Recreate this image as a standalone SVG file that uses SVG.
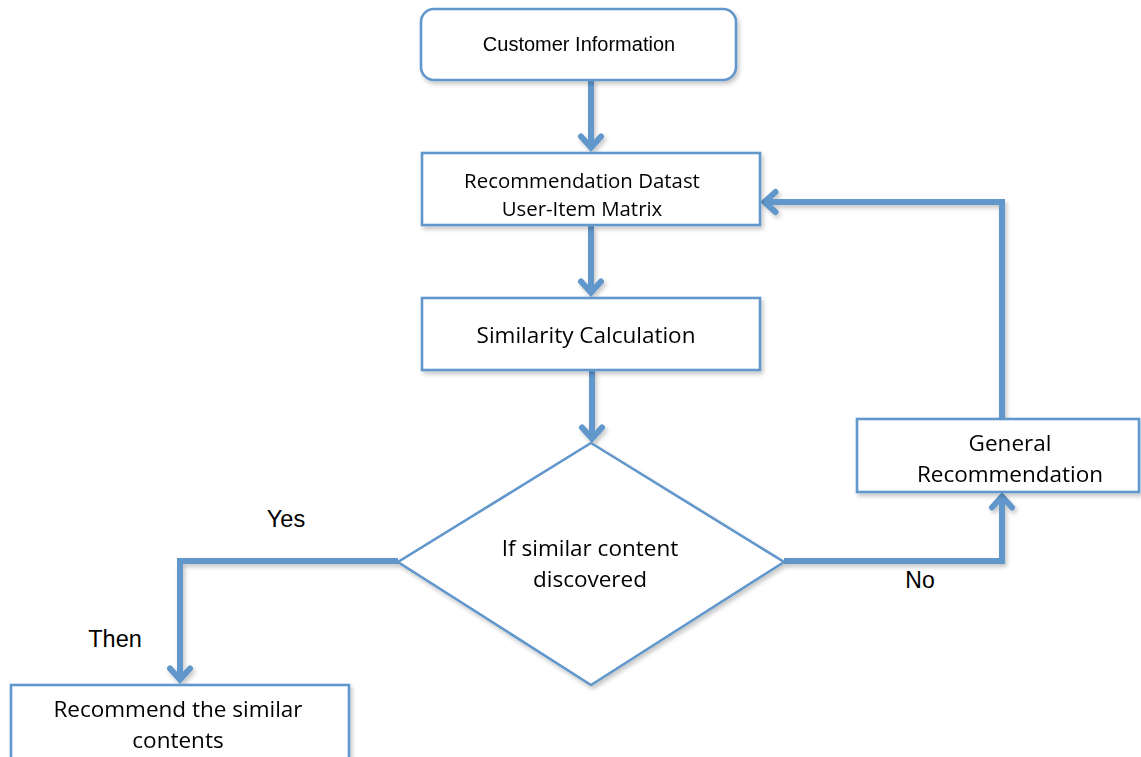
<svg xmlns="http://www.w3.org/2000/svg" width="1141" height="757" viewBox="0 0 1141 757">
<style>
.box{fill:#fff;stroke:#6297CC;stroke-width:2.6}
.con{fill:none;stroke:#6297CC;stroke-width:6;stroke-linejoin:miter}
.ar{font-family:"Liberation Sans",Arial,sans-serif;fill:#000;text-anchor:middle}
.cb{font-family:"Open Sans","Noto Sans",sans-serif;fill:#000;text-anchor:middle;font-size:22.5px}
</style>
<defs>
<filter id="sh" x="-10%" y="-10%" width="130%" height="130%">
<feDropShadow dx="2" dy="3" stdDeviation="2" flood-color="#000" flood-opacity="0.22"/>
</filter>
<marker id="ah" markerUnits="userSpaceOnUse" markerWidth="40" markerHeight="40" viewBox="-20 -20 40 40" refX="0" refY="0" orient="auto" overflow="visible">
<path d="M-8,-10 L3,0 L-8,10" fill="none" stroke="#6297CC" stroke-width="6" stroke-linecap="round" stroke-linejoin="miter"/>
</marker>
</defs>
<rect width="1141" height="757" fill="#fff"/>
<g id="connectors" filter="url(#sh)">
<path class="con" d="M591,80 V144.5" marker-end="url(#ah)"/>
<path class="con" d="M591,226 V289.5" marker-end="url(#ah)"/>
<path class="con" d="M592,370 V435.5" marker-end="url(#ah)"/>
<path class="con" d="M398,561 H180 V676.5" marker-end="url(#ah)"/>
<path class="con" d="M784,561 H1002 V499.5" marker-end="url(#ah)"/>
<path class="con" d="M1002,419 V202 H767.5" marker-end="url(#ah)"/>
</g>
<g id="n-customer" filter="url(#sh)">
<rect class="box" x="421" y="9" width="315" height="71" rx="13"/>
<text class="ar" x="579" y="51" font-size="20">Customer Information</text>
</g>
<g id="n-dataset" filter="url(#sh)">
<rect class="box" x="422" y="153" width="338" height="72"/>
<text class="cb" x="582" y="188" style="font-size:20.4px">Recommendation Datast</text>
<text class="cb" x="582" y="216" style="font-size:20.4px">User-Item Matrix</text>
</g>
<g id="n-similarity" filter="url(#sh)">
<rect class="box" x="422" y="298" width="338" height="72"/>
<text class="cb" x="586" y="343">Similarity Calculation</text>
</g>
<g id="n-decision" filter="url(#sh)">
<polygon class="box" points="591,443 784,562 591,685 398,562"/>
<text class="cb" x="590" y="556">If similar content</text>
<text class="cb" x="590" y="587">discovered</text>
</g>
<g id="n-general" filter="url(#sh)">
<rect class="box" x="857" y="419" width="282" height="73"/>
<text class="cb" x="1010" y="451">General</text>
<text class="cb" x="1010" y="482">Recommendation</text>
</g>
<g id="n-recommend" filter="url(#sh)">
<rect class="box" x="11" y="685" width="338" height="85"/>
<text class="cb" x="178" y="717">Recommend the similar</text>
<text class="cb" x="178" y="748">contents</text>
</g>
<g id="labels">
<text class="ar" x="286" y="527" font-size="23.5">Yes</text>
<text class="ar" x="115" y="647" font-size="23.5">Then</text>
<text class="ar" x="920" y="588" font-size="23">No</text>
</g>
</svg>
